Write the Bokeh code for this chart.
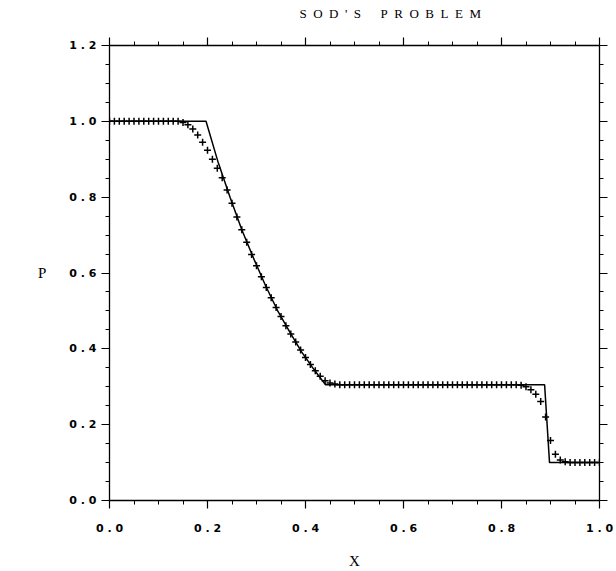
from bokeh.plotting import figure
from bokeh.models import LinearAxis, FixedTicker, CustomJSTickFormatter, Range1d
from bokeh.embed import file_html
from bokeh.resources import INLINE

# exact solution (solid line)
x_exact = [0.0, 0.197, 0.221, 0.246, 0.270, 0.295, 0.319, 0.343, 0.368, 0.392,
           0.417, 0.441, 0.888, 0.898, 1.0]
p_exact = [1.0, 1.0, 0.895, 0.800, 0.714, 0.636, 0.565, 0.501, 0.444, 0.392,
           0.346, 0.305, 0.305, 0.100, 0.100]

# numerical solution (+ markers)
x_num = [0.00, 0.01, 0.02, 0.03, 0.04, 0.05, 0.06, 0.07, 0.08, 0.09,
         0.10, 0.11, 0.12, 0.13, 0.14, 0.15, 0.16, 0.17, 0.18, 0.19,
         0.20, 0.21, 0.22, 0.23, 0.24, 0.25, 0.26, 0.27, 0.28, 0.29,
         0.30, 0.31, 0.32, 0.33, 0.34, 0.35, 0.36, 0.37, 0.38, 0.39,
         0.40, 0.41, 0.42, 0.43, 0.44, 0.45, 0.46, 0.47, 0.48, 0.49,
         0.50, 0.51, 0.52, 0.53, 0.54, 0.55, 0.56, 0.57, 0.58, 0.59,
         0.60, 0.61, 0.62, 0.63, 0.64, 0.65, 0.66, 0.67, 0.68, 0.69,
         0.70, 0.71, 0.72, 0.73, 0.74, 0.75, 0.76, 0.77, 0.78, 0.79,
         0.80, 0.81, 0.82, 0.83, 0.84, 0.85, 0.86, 0.87, 0.88, 0.89,
         0.90, 0.91, 0.92, 0.93, 0.94, 0.95, 0.96, 0.97, 0.98, 0.99,
         1.00]
p_num = [1.0, 1.0, 1.0, 1.0, 1.0, 1.0, 1.0, 1.0, 1.0, 1.0,
         1.0, 1.0, 1.0, 1.0, 1.0, 0.997, 0.991, 0.980, 0.964, 0.945,
         0.924, 0.900, 0.876, 0.851, 0.819, 0.784, 0.748, 0.714, 0.681, 0.649,
         0.619, 0.590, 0.562, 0.535, 0.509, 0.485, 0.461, 0.439, 0.418, 0.397,
         0.377, 0.359, 0.342, 0.328, 0.316, 0.310, 0.307, 0.305, 0.305, 0.305,
         0.305, 0.305, 0.305, 0.305, 0.305, 0.305, 0.305, 0.305, 0.305, 0.305,
         0.305, 0.305, 0.305, 0.305, 0.305, 0.305, 0.305, 0.305, 0.305, 0.305,
         0.305, 0.305, 0.305, 0.305, 0.305, 0.305, 0.305, 0.305, 0.305, 0.305,
         0.305, 0.305, 0.305, 0.305, 0.304, 0.300, 0.292, 0.280, 0.261, 0.220,
         0.158, 0.122, 0.107, 0.102, 0.100, 0.100, 0.100, 0.100, 0.100, 0.100,
         0.100]

x_ticks = [0.0, 0.2, 0.4, 0.6, 0.8, 1.0]
x_minor = [0.05, 0.1, 0.15, 0.25, 0.3, 0.35, 0.45, 0.5, 0.55, 0.65, 0.7, 0.75,
           0.85, 0.9, 0.95]
y_ticks = [0.0, 0.2, 0.4, 0.6, 0.8, 1.0, 1.2]
y_minor = [0.05, 0.1, 0.15, 0.25, 0.3, 0.35, 0.45, 0.5, 0.55, 0.65, 0.7, 0.75,
           0.85, 0.9, 0.95, 1.05, 1.1, 1.15]

title_text = "S\u2002O\u2002D\u2002'\u2002S\u2003\u2002P\u2002R\u2002O\u2002B\u2002L\u2002E\u2002M"
title_pad = "\u2002" * 11  # shifts the centred title to the right, as in the original

p = figure(width=616, height=571, x_range=Range1d(0, 1), y_range=Range1d(0, 1.2),
           output_backend="svg", toolbar_location=None,
           min_border_left=109, min_border_right=17, min_border_top=45,
           min_border_bottom=63)
p.xgrid.visible = False
p.ygrid.visible = False
p.outline_line_color = None
p.background_fill_color = "white"
p.border_fill_color = "white"

fmt_code = "return tick.toFixed(1).split('').join(' ');"


def style_axis(ax, ticks, minor, labels=True):
    ax.ticker = FixedTicker(ticks=ticks, minor_ticks=minor)
    ax.axis_line_color = "black"
    ax.axis_line_width = 1.3
    ax.major_tick_line_color = "black"
    ax.minor_tick_line_color = "black"
    ax.major_tick_line_width = 1.2
    ax.minor_tick_line_width = 1.0
    ax.major_tick_in = 0
    ax.major_tick_out = 8
    ax.minor_tick_in = 0
    ax.minor_tick_out = 4
    if labels:
        ax.formatter = CustomJSTickFormatter(code=fmt_code)
        ax.major_label_text_font = "DejaVu Sans"
        ax.major_label_text_font_style = "bold"
        ax.major_label_text_font_size = "11px"
        ax.major_label_text_color = "black"
    else:
        ax.formatter = CustomJSTickFormatter(code="return '';")
        ax.major_label_standoff = 0


xa = p.xaxis[0]
style_axis(xa, x_ticks, x_minor)
xa.major_label_standoff = 13
xa.axis_label = "X"
xa.axis_label_text_font = "Liberation Serif"
xa.axis_label_text_font_style = "normal"
xa.axis_label_text_font_size = "15px"
xa.axis_label_text_color = "black"
xa.axis_label_standoff = 15

ya = p.yaxis[0]
style_axis(ya, y_ticks, y_minor)
ya.major_label_standoff = 5
ya.axis_label = "P"
ya.axis_label_orientation = "horizontal"
ya.axis_label_text_font = "Liberation Serif"
ya.axis_label_text_font_style = "normal"
ya.axis_label_text_font_size = "15px"
ya.axis_label_text_color = "black"
ya.axis_label_standoff = 20

top = LinearAxis()
style_axis(top, x_ticks, x_minor, labels=False)
top.axis_label = title_pad + title_text
top.axis_label_text_font = "Liberation Serif"
top.axis_label_text_font_style = "normal"
top.axis_label_text_font_size = "13px"
top.axis_label_text_color = "black"
top.axis_label_standoff = 17
p.add_layout(top, "above")

right = LinearAxis()
style_axis(right, y_ticks, y_minor, labels=False)
p.add_layout(right, "right")

p.line(x_exact, p_exact, line_color="black", line_width=1.5)
p.scatter(x_num, p_num, marker="cross", size=7, line_width=1.5, color="black")

open("out.html", "w").write(file_html(p, INLINE))
